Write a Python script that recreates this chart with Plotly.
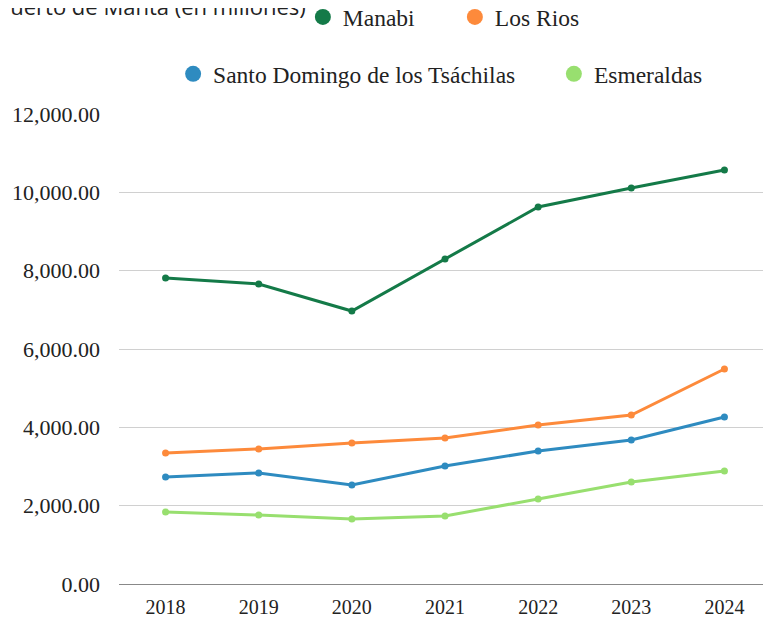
import plotly.graph_objects as go

years = ["2018", "2019", "2020", "2021", "2022", "2023", "2024"]
manabi = [7810, 7660, 6970, 8300, 9625, 10110, 10570]
los_rios = [3345, 3447, 3600, 3727, 4060, 4315, 5490]
santo_domingo = [2732, 2834, 2527, 3013, 3395, 3676, 4264]
esmeraldas = [1838, 1762, 1660, 1736, 2170, 2604, 2885]

series = [
    ("Manabi", manabi, "#147a48", "legend"),
    ("Los Rios", los_rios, "#fd8a3b", "legend"),
    ("Santo Domingo de los Tsáchilas", santo_domingo, "#2e8bc0", "legend2"),
    ("Esmeraldas", esmeraldas, "#98df6f", "legend3"),
]

serif = "Liberation Serif, DejaVu Serif, serif"
fig = go.Figure()
for name, vals, col, lg in series:
    fig.add_trace(go.Scatter(
        x=years, y=vals, mode="lines+markers", name=name,
        line=dict(color=col, width=3), marker=dict(color=col, size=7),
        showlegend=False, legendgroup=name,
    ))
for name, vals, col, lg in series:
    fig.add_trace(go.Scatter(
        x=[None], y=[None], mode="markers", name=name,
        marker=dict(color=col, size=22), legend=lg, legendgroup=name,
    ))

leg_font = dict(family=serif, size=23.5, color="#222")
fig.update_layout(
    width=771, height=618,
    margin=dict(l=111, r=8, t=106, b=42, autoexpand=False),
    plot_bgcolor="white", paper_bgcolor="white",
    showlegend=True,
    legend=dict(orientation="h", x=0.282, xanchor="left", y=1.206, yanchor="middle",
                font=leg_font, itemsizing="trace", entrywidth=107, bgcolor="rgba(0,0,0,0)"),
    legend2=dict(orientation="h", x=0.083, xanchor="left", y=1.085, yanchor="middle",
                 font=leg_font, itemsizing="trace", bgcolor="rgba(0,0,0,0)"),
    legend3=dict(orientation="h", x=0.667, xanchor="left", y=1.085, yanchor="middle",
                 font=leg_font, itemsizing="trace", bgcolor="rgba(0,0,0,0)"),
    xaxis=dict(type="category", range=[-0.5, 6.5], showgrid=False, showline=True,
               linecolor="#888", linewidth=1, ticks="", automargin=False,
               tickfont=dict(family=serif, size=20, color="#222"), ticklabelstandoff=5),
    yaxis=dict(range=[0, 12000], tickvals=[0, 2000, 4000, 6000, 8000, 10000, 12000],
               tickformat=",.2f", showgrid=True, gridcolor="#d0d0d0", gridwidth=1,
               zeroline=False, showline=False, ticks="", automargin=False,
               tickfont=dict(family=serif, size=22, color="#222"), ticklabelstandoff=18),
    annotations=[dict(text="Puerto de Manta (en millones)", xref="paper", yref="paper",
                      x=0, y=1, xshift=-124, yshift=108, xanchor="left", yanchor="middle",
                      showarrow=False, font=dict(family="Open Sans, sans-serif", size=22, color="#222"))],
)

fig.write_html("out.html")
